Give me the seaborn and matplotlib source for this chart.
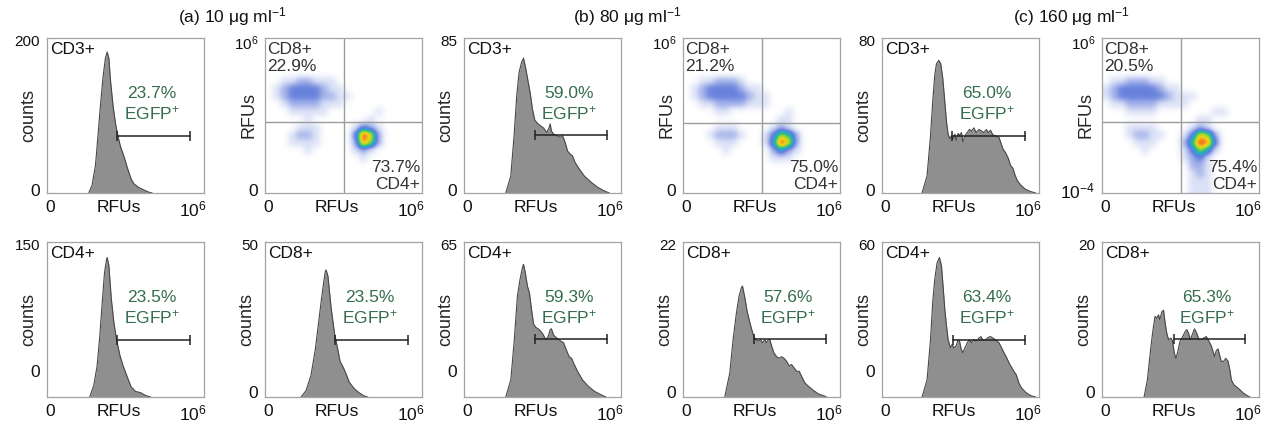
import numpy as np
import matplotlib
matplotlib.use('Agg')
import matplotlib.pyplot as plt
import seaborn as sns
from matplotlib.colors import LinearSegmentedColormap

# ---- data ----
# histogram x = position along the RFU axis (% of axis), h = height (% of full scale)
cd3_10_x = [26.6, 28.7, 30.9, 32.3, 34.0, 35.7, 37.2, 38.3, 39.4, 40.4, 42.1, 43.6, 45.1, 46.8, 48.9, 51.1,
            53.6, 55.3, 58.5, 61.7, 64.9, 67.0]
cd3_10_h = [0, 5, 18, 35, 56, 75, 87, 91, 87, 73, 56, 45, 37, 30, 24, 16.5, 9, 6, 3.5, 2, 0.5, 0]

cd4_10_x = [27.2, 29.8, 31.9, 33.6, 35.1, 36.6, 37.9, 38.3, 39.4, 40.9, 42.6, 44.3, 46.4, 48.5, 51.1, 53.6,
            56.4, 59.6, 62.8, 66.0]
cd4_10_h = [0, 7.5, 20, 39, 60, 80, 88.5, 90, 85, 64, 48, 37, 27, 20, 13, 6.5, 3.6, 2.8, 1, 0]

cd8_10_x = [22.9, 26.1, 29.3, 32.1, 34.6, 36.7, 38.4, 38.9, 40.1, 42.0, 44.2, 46.3, 47.8, 49.9, 51.6, 53.7,
            56.9, 60.1, 63.3, 65.4]
cd8_10_h = [0, 4, 14, 31, 52, 69, 81, 82, 78, 58.5, 41.5, 31, 23, 19, 15, 9.5, 5.3, 2.6, 0.6, 0]

cd3_80_x = [26.6, 29.8, 31.9, 33.6, 35.1, 36.6, 37.9, 39.4, 40.9, 42.1, 43.6, 45.1, 46.8, 48.5, 50.6, 52.8,
            54.3, 54.9, 55.7, 57.0, 59.1, 61.3, 62.8, 64.3, 66.0, 67.7, 69.1, 70.6, 73.4, 76.6, 80.9, 85.1,
            89.4, 92.6]
cd3_80_h = [0, 11, 37, 63, 78, 84, 87, 80, 71.5, 65, 54, 47, 45, 43.5, 42, 39, 42.5, 44.6, 40, 38, 37, 36,
            37, 33, 27, 25, 24, 20, 15.5, 11, 7, 3.7, 1.3, 0]

cd4_80_x = [26.6, 29.8, 31.9, 34.0, 35.7, 37.2, 37.9, 38.9, 40.4, 41.7, 43.0, 44.3, 45.7, 47.9, 50.0, 52.1,
            53.6, 54.9, 55.7, 57.0, 59.1, 61.7, 63.4, 64.9, 67.0, 68.5, 70.2, 72.3, 75.5, 79.1, 83.0, 87.2,
            90.4]
cd4_80_h = [0, 11, 35, 65, 76, 83.4, 85.6, 81, 71.5, 67, 56.5, 47, 45, 43.5, 41, 37, 39, 43.5, 44, 40, 38,
            36, 35, 31, 26, 25, 21, 16.6, 11, 7, 3.7, 1.5, 0]

cd8_80_x = [26.6, 29.8, 31.9, 34.0, 35.7, 37.2, 37.9, 39.4, 40.9, 42.6, 43.8, 45.1, 46.4, 47.9, 49.4, 50.6,
            52.1, 53.2, 54.3, 55.3, 56.4, 57.9, 59.6, 61.3, 62.8, 64.3, 66.0, 67.7, 69.1, 70.6, 72.3, 74.0,
            75.5, 77.7, 79.8, 83.0, 86.2, 89.4, 91.5]
cd8_80_h = [0, 15.5, 37, 54, 65, 70.5, 71.6, 64, 55, 48, 43.5, 39, 37, 36, 37, 35, 37, 35, 37, 37, 33,
            28.5, 26, 25, 26, 25, 23, 20, 21, 19, 16.6, 16.6, 13.4, 9, 7, 4.3, 2, 0.9, 0]

cd3_160_x = [25.5, 28.7, 30.9, 32.3, 33.6, 34.7, 36.2, 37.4, 38.7, 40.0, 41.1, 42.1, 43.2, 44.3, 45.1, 46.4,
             47.2, 48.5, 49.4, 50.6, 51.5, 52.8, 54.3, 55.7, 57.0, 58.5, 60.0, 61.7, 63.4, 64.9, 66.4, 67.7,
             69.1, 70.6, 72.3, 74.5, 75.5, 77.0, 78.7, 80.4, 81.9, 83.4, 84.7, 86.2, 88.3, 91.1, 94.7, 97.9]
cd3_160_h = [0, 11, 37, 59, 76, 83.4, 85.6, 83.4, 74, 59, 45.7, 38, 35, 37, 34.5, 38, 34, 38.5, 37, 39, 33,
             37, 39, 41, 40, 42, 39, 41, 40, 39, 41, 39, 40.5, 37.5, 37, 36, 33, 28.5, 26, 22.5, 17.7, 16,
             11.6, 8, 5.2, 2.6, 0.9, 0]

cd4_160_x = [25.5, 28.7, 30.9, 32.3, 33.6, 35.1, 36.6, 37.9, 38.9, 40.0, 41.1, 42.1, 43.6, 44.7, 45.7, 47.2,
             48.5, 49.4, 50.4, 51.5, 52.8, 54.3, 55.7, 57.0, 58.5, 60.0, 61.7, 63.0, 64.3, 66.0, 67.7, 69.1,
             70.6, 72.3, 74.5, 76.2, 77.7, 79.1, 80.9, 82.6, 84.0, 85.5, 87.2, 88.9, 91.5, 94.7, 97.9]
cd4_160_h = [0, 11, 37, 61, 76, 86.6, 90, 84.5, 71.5, 56.5, 45.7, 37, 31.7, 34, 31.7, 33, 37, 36, 31, 28.5,
             31.7, 35, 37, 35, 37, 36, 38, 39, 36.6, 37, 38.5, 39, 38, 37, 35, 31.7, 28.5, 26, 22, 19, 16.6,
             14.4, 9, 5.8, 3, 0.9, 0]

cd8_160_x = [26.8, 28.9, 31.0, 32.5, 33.8, 34.9, 36.0, 36.8, 38.1, 39.2, 40.3, 41.3, 42.4, 43.9, 45.0, 46.0,
             47.1, 48.2, 49.7, 51.4, 53.1, 54.0, 55.2, 56.1, 57.4, 58.9, 60.4, 61.7, 63.2, 64.7, 66.4, 68.1,
             69.6, 70.7, 71.7, 72.8, 73.9, 74.9, 76.0, 77.5, 78.8, 80.3, 81.4, 82.4, 83.9, 85.7, 87.8, 89.9,
             92.5, 94.2]
cd8_160_h = [0, 11, 31, 43.5, 52, 51, 53, 50, 55, 56, 47, 41, 37, 38, 36, 28.5, 25, 29, 36, 39, 42.5, 43.5,
             41, 37, 40, 44, 41, 37, 37, 38, 39, 36, 33, 29.5, 26, 30, 31, 27, 23, 23, 25, 23, 17.7, 11, 8,
             6.5, 4.7, 2.6, 0.9, 0]

# panel order: top row histograms, then bottom row
hist_names = ['CD3+', 'CD3+', 'CD3+', 'CD4+', 'CD8+', 'CD4+', 'CD8+', 'CD4+', 'CD8+']
hist_ymax = [200, 85, 80, 150, 50, 65, 22, 60, 20]
hist_pct = ['23.7%', '59.0%', '65.0%', '23.5%', '23.5%', '59.3%', '57.6%', '63.4%', '65.3%']
gate_lo = [44.7, 45.1, 44.3, 44.7, 44.8, 45.3, 45.3, 45.3, 46.0]
gate_hi = [90.9, 91.1, 91.1, 90.9, 90.9, 91.1, 91.1, 91.1, 91.0]
gate_h = [37, 37.5, 37, 37, 37, 37.5, 37.5, 37, 37.5]
zero_tick = [2, 2, 2, 16.7, 3, 16.7, 3, 16.7, 3]

# dot plots: event density on a 20x20 grid (rows top -> bottom), 0 = empty, 9 = densest
dens_10 = ["00000000000000000000", "00000000000000000000", "00000000000000000000",
           "00000000000000000000", "00000000000000000000", "00112211100000000000",
           "01233332110000000000", "01233332211000000000", "00122221110000000000",
           "00011111000000100000", "00000100000001000000", "00001110000132100000",
           "00012210000397200000", "00011110000286200000", "00000100000121000000",
           "00000000000010000000", "00000000000000000000", "00000000000000000000",
           "00000000000000000000", "00000000000000000000"]
dens_80 = ["00000000000000000000", "00000000000000000000", "00000000000000000000",
           "00000000000000000000", "00000000000000000000", "00112221000000000000",
           "01233332110000000000", "01233333211000000000", "00112222111000000000",
           "00001100000001000000", "00000000000011000000", "00001110000121000000",
           "00012221001365200000", "00001110001497200000", "00000100000242100000",
           "00000000000111000000", "00000000000000000000", "00000000000000000000",
           "00000000000000000000", "00000000000000000000"]
dens_160 = ["00000000000000000000", "00000000000000000000", "00000000000000000000",
            "00000000000000000000", "00000000000000000000", "01122211000000000000",
            "12333332110000000000", "12333333211100000000", "01122221111000000000",
            "00011110000000110000", "00000000000011000000", "00011110000121000000",
            "00012211001376200000", "00001110002598300000", "00000100001364100000",
            "00000000001231000000", "00000000000221000000", "00000000000121000000",
            "00000000000111000000", "00000000000111000000"]
dot_cd8 = ['22.9%', '21.2%', '20.5%']
dot_cd4 = ['73.7%', '75.0%', '75.4%']
dot_low = ['0', '0', '10$^{-4}$']
quad_x = [50, 50, 50]
quad_y = [46, 45, 46]

titles = ['(a) 10 μg ml$^{-1}$', '(b) 80 μg ml$^{-1}$', '(c) 160 μg ml$^{-1}$']

# ---- style ----
sns.set_style('white')
plt.rcParams['font.family'] = ['Liberation Sans', 'DejaVu Sans']
plt.rcParams['mathtext.fontset'] = 'custom'
plt.rcParams['mathtext.rm'] = 'Liberation Sans'
plt.rcParams['mathtext.it'] = 'Liberation Sans:italic'

green = '#356d4e'
frame = '#a3a3a3'
flow_cmap = LinearSegmentedColormap.from_list(
    'flow', ['#ffffff', '#dbe1f6', '#a3b2ea', '#6680db', '#2f9fd8', '#2fbf7e',
             '#a6d62f', '#f2d21e', '#f07c1c', '#dd2a10'])

W, H = 1266, 425
lefts = [47, 265, 464, 683, 882, 1102]
tops = [38, 242]
aw, ah = 157, 155
fs = 12.5


def make_ax(fig, col, row):
    return fig.add_axes([lefts[col] / W, (H - tops[row] - ah) / H, aw / W, ah / H])


def style_ax(ax):
    for s in ax.spines.values():
        s.set_color(frame)
        s.set_linewidth(0.9)
    ax.tick_params(length=0, pad=5, labelsize=12.5, colors='#111111')
    ax.set_xlim(0, 100)
    ax.set_xticks([2, 46, 93])
    ax.set_xticklabels(['0', 'RFUs', '10$^{6}$'])


def hist_panel(ax, i, x, h):
    ymax = hist_ymax[i]
    y = np.array(h) * ymax / 100
    ax.fill_between(x, y, color='#8f8f8f', lw=0)
    sns.lineplot(x=x, y=y, ax=ax, color='#474747', lw=0.8)
    gy = gate_h[i] * ymax / 100
    ax.plot([gate_lo[i], gate_hi[i]], [gy, gy], color='#222222', lw=1.1)
    ax.plot([gate_lo[i], gate_hi[i]], [gy, gy], ls='none', marker='|', ms=7, mew=1.1, color='#222222')
    ax.text(67, 0.575 * ymax, hist_pct[i] + '\nEGFP$^{+}$', ha='center', va='center',
            color=green, fontsize=fs, linespacing=1.2)
    ax.text(1.8, 0.975 * ymax, hist_names[i], ha='left', va='top', fontsize=fs, color='#111111')
    style_ax(ax)
    ax.set_ylim(0, ymax)
    ax.set_yticks([zero_tick[i] * ymax / 100, 0.985 * ymax])
    ax.set_yticklabels(['0', str(ymax)])
    ax.get_yticklabels()[1].set_fontsize(11)
    ax.set_ylabel('counts', fontsize=13)
    ax.yaxis.set_label_coords(-0.06, 0.5)


def dot_panel(ax, j, grid):
    arr = np.array([[int(c) for c in row] for row in grid], dtype=float)
    ax.imshow(arr, extent=(0, 100, 0, 100), origin='upper', cmap=flow_cmap, vmin=0, vmax=9,
              interpolation='gaussian', aspect='auto')
    ax.axvline(quad_x[j], color='#9c9c9c', lw=1)
    ax.axhline(quad_y[j], color='#9c9c9c', lw=1)
    ax.text(1.5, 97.5, 'CD8+\n' + dot_cd8[j], ha='left', va='top', fontsize=fs, color='#333333',
            linespacing=1.15)
    ax.text(98.8, 0.5, dot_cd4[j] + '\nCD4+', ha='right', va='bottom', fontsize=fs, color='#333333',
            linespacing=1.15)
    style_ax(ax)
    ax.set_ylim(0, 100)
    ax.set_yticks([2, 97])
    ax.set_yticklabels([dot_low[j], '10$^{6}$'])
    ax.get_yticklabels()[1].set_fontsize(11)
    ax.set_ylabel('RFUs', fontsize=13)
    ax.yaxis.set_label_coords(-0.05, 0.5)


fig = plt.figure(figsize=(W / 100, H / 100), dpi=100)

hist_data = [(cd3_10_x, cd3_10_h), (cd3_80_x, cd3_80_h), (cd3_160_x, cd3_160_h),
             (cd4_10_x, cd4_10_h), (cd8_10_x, cd8_10_h), (cd4_80_x, cd4_80_h),
             (cd8_80_x, cd8_80_h), (cd4_160_x, cd4_160_h), (cd8_160_x, cd8_160_h)]
hist_pos = [(0, 0), (2, 0), (4, 0), (0, 1), (1, 1), (2, 1), (3, 1), (4, 1), (5, 1)]
for i, (col, row) in enumerate(hist_pos):
    ax = make_ax(fig, col, row)
    hist_panel(ax, i, *hist_data[i])

for j, (col, grid) in enumerate(zip([1, 3, 5], [dens_10, dens_80, dens_160])):
    ax = make_ax(fig, col, 0)
    dot_panel(ax, j, grid)

for k, xc in enumerate([232, 627, 1072]):
    fig.text(xc / W, 1 - 17 / H, titles[k], ha='center', va='center', fontsize=12.5, color='#111111')

fig.savefig('out.png', dpi=100)
